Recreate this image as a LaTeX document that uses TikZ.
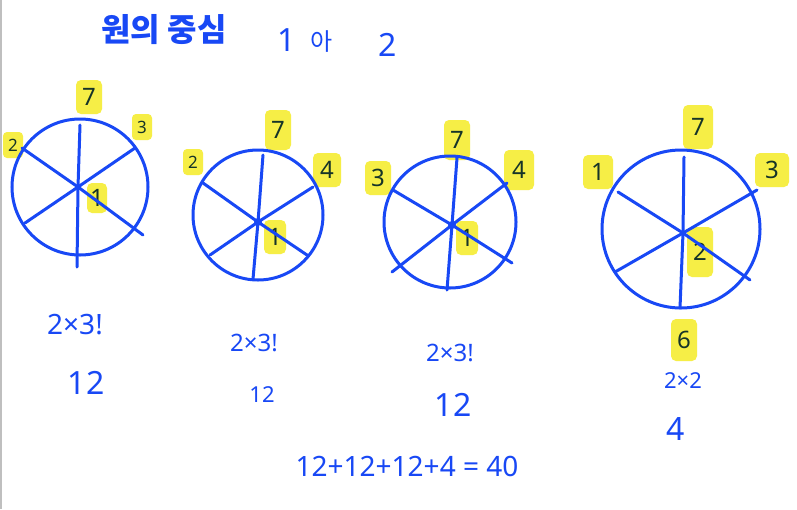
\documentclass[tikz,border=0pt]{standalone}
\usepackage{fontspec}
\setmainfont{Noto Sans}
\newfontfamily\krfont{Noto Sans CJK KR}
\definecolor{ink}{RGB}{24,72,245}
\definecolor{hl}{RGB}{246,238,70}
\definecolor{dark}{RGB}{22,52,40}
\tikzset{
  spoke/.style={draw=ink,line width=3pt,line cap=round},
  rim/.style={draw=ink,line width=3pt},
  hlab/.style={fill=hl,text=dark,rounded corners=5pt,inner sep=2pt,minimum width=26pt,minimum height=34pt,font=\fontsize{24}{24}\selectfont},
  slab/.style={fill=hl,text=dark,rounded corners=4pt,inner sep=1.5pt,minimum width=20pt,minimum height=26pt,font=\bfseries\fontsize{17}{17}\selectfont},
  note/.style={text=ink,font=\fontsize{28}{28}\selectfont},
  hubdot/.style={fill=ink,circle,inner sep=0pt,minimum size=8pt}
}
\begin{document}
\begin{tikzpicture}[x=1pt,y=-1pt]
\useasboundingbox (0,0) rectangle (797,509);
\fill[white] (0,0) rectangle (797,509);
\draw[gray!50,line width=1.5pt] (1,0) -- (1,509);
% title
\node[text=ink,font=\krfont\bfseries\fontsize{32}{32}\selectfont] (title) at (164,30) {원의 중심};
\node[text=ink,font=\fontsize{32}{32}\selectfont] (one) at (287,40) {1};
\node[text=ink,font=\krfont\fontsize{24}{24}\selectfont] (ah) at (322,42) {아};
\node[text=ink,font=\fontsize{32}{32}\selectfont] (two) at (388,45) {2};

% ---------- circle 1 ----------
\node[hlab] (a7) at (89,97) {7};
\node[slab] (a3) at (142,127) {3};
\node[slab] (a2) at (13,145) {2};
\node[hlab,minimum width=20pt,minimum height=30pt] (a1) at (97,198) {1};
\draw[rim] (80,187) circle (68);
\coordinate (a0) at (78,187);
\coordinate (aT) at (80,125); \coordinate (aB) at (77,267);
\coordinate (aL) at (22,148); \coordinate (aR) at (143,235);
\coordinate (aU) at (135,148); \coordinate (aD) at (25,223);
\draw[spoke] (aT) -- (a0) -- (aB);
\draw[spoke] (aL) -- (a0) -- (aR);
\draw[spoke] (aU) -- (a0) -- (aD);
\node[note] (an) at (75,325) {2×3!};
\node[note,font=\fontsize{32}{32}\selectfont] (av) at (86,383) {12};

% ---------- circle 2 ----------
\node[hlab,minimum height=40pt] (b7) at (278,130) {7};
\node[slab] (b2) at (193,162) {2};
\node[hlab,minimum width=28pt] (b4) at (327,170) {4};
\node[hlab,minimum width=22pt] (b1) at (275,237) {1};
\draw[rim] (258,215) circle (65);
\coordinate (b0) at (258,222);
\coordinate (bT) at (263,155); \coordinate (bB) at (253,279);
\coordinate (bL) at (203,183); \coordinate (bR) at (307,255);
\coordinate (bU) at (313,187); \coordinate (bD) at (210,255);
\draw[spoke] (bT) -- (b0) -- (bB);
\draw[spoke] (bL) -- (b0) -- (bR);
\draw[spoke] (bU) -- (b0) -- (bD);
\node[hubdot] at (b0) {};
\node[note,font=\fontsize{24}{24}\selectfont] (bn) at (254,343) {2×3!};
\node[note,font=\fontsize{22}{22}\selectfont] (bv) at (262,395) {12};

% ---------- circle 3 ----------
\node[hlab,minimum height=40pt] (c7) at (457,140) {7};
\node[hlab] (c3) at (378,178) {3};
\node[hlab,minimum width=30pt,minimum height=40pt] (c4) at (519,170) {4};
\node[hlab,minimum width=22pt] (c1) at (467,238) {1};
\draw[rim] (450,222) circle (66);
\coordinate (c0) at (452,225);
\coordinate (cT) at (457,158); \coordinate (cB) at (447,290);
\coordinate (cL) at (393,190); \coordinate (cR) at (512,263);
\coordinate (cU) at (507,183); \coordinate (cD) at (392,272);
\draw[spoke] (cT) -- (c0) -- (cB);
\draw[spoke] (cL) -- (c0) -- (cR);
\draw[spoke] (cU) -- (c0) -- (cD);
\node[hubdot] at (c0) {};
\node[note,font=\fontsize{24}{24}\selectfont] (cn) at (450,353) {2×3!};
\node[note,font=\fontsize{32}{32}\selectfont] (cv) at (453,405) {12};

% ---------- circle 4 ----------
\node[hlab,minimum height=44pt,minimum width=30pt] (d7) at (698,127) {7};
\node[hlab,minimum width=30pt] (d1) at (598,172) {1};
\node[hlab,minimum width=34pt] (d3) at (772,170) {3};
\node[hlab,minimum height=50pt] (d2) at (700,252) {2};
\node[hlab,minimum height=42pt] (d6) at (684,340) {6};
\draw[rim] (681,229) circle (79);
\coordinate (d0) at (683,233);
\coordinate (dT) at (684,157); \coordinate (dB) at (680,308);
\coordinate (dL) at (618,192); \coordinate (dR) at (750,280);
\coordinate (dU) at (757,190); \coordinate (dD) at (615,272);
\draw[spoke] (dT) -- (d0) -- (dB);
\draw[spoke] (dL) -- (d0) -- (dR);
\draw[spoke] (dU) -- (d0) -- (dD);
\node[note,font=\fontsize{22}{22}\selectfont] (dn) at (683,381) {2×2};
\node[note,font=\fontsize{32}{32}\selectfont] (dv) at (676,429) {4};

% sum
\node[note,font=\fontsize{28}{28}\selectfont] (sum) at (407,466) {12+12+12+4 = 40};
\end{tikzpicture}
\end{document}
